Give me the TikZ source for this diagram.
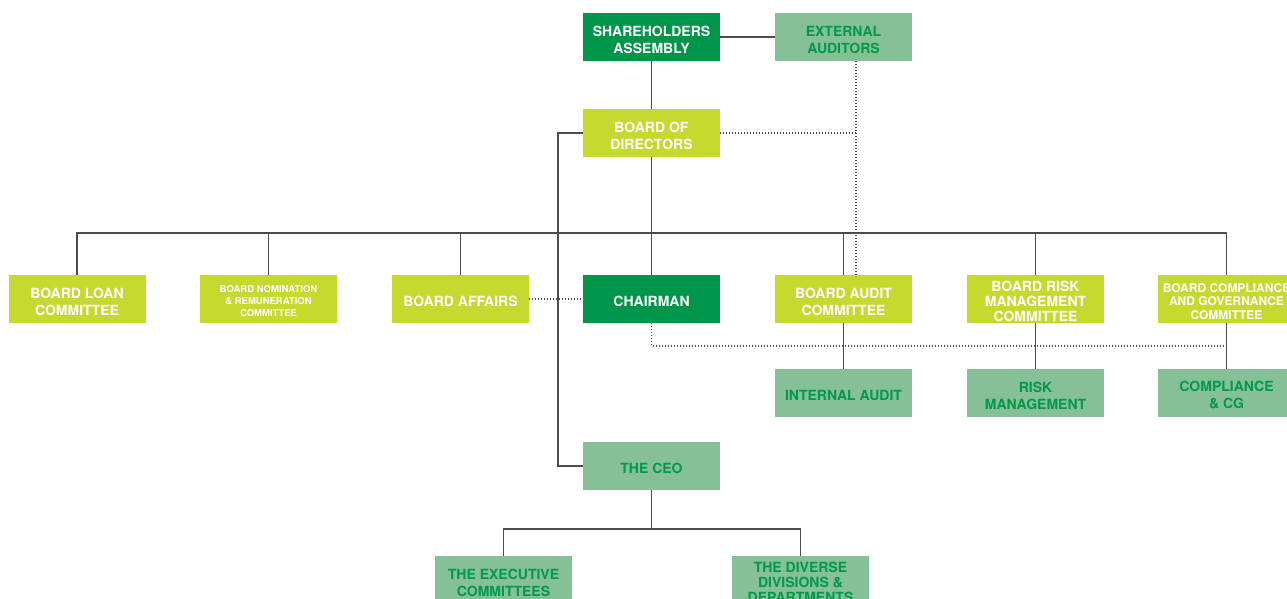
\documentclass[tikz,border=0pt]{standalone}
\usepackage{fontspec}
\setmainfont{TeX Gyre Heros}

\newlength{\du}
\setlength{\du}{1pt}

\definecolor{darkgreen}{rgb}{0.000000, 0.588235, 0.290196}
\definecolor{limegreen}{rgb}{0.776471, 0.850980, 0.180392}
\definecolor{palegreen}{rgb}{0.521569, 0.752941, 0.592157}
\definecolor{textgreen}{rgb}{0.000000, 0.603922, 0.282353}
\definecolor{linegray}{rgb}{0.300000, 0.300000, 0.300000}

% lowers a label a little inside its box
\newcommand{\lift}{\rule{0pt}{\dimexpr\fontcharht\font`B+5\du\relax}}

\tikzset{
  box/.style={minimum width=137\du, minimum height=48\du, inner sep=0pt, align=center,
    font=\bfseries\fontsize{14}{17}\selectfont},
  topbox/.style={box, fill=darkgreen, text=white},
  boardbox/.style={box, fill=limegreen, text=white},
  unitbox/.style={box, fill=palegreen, text=textgreen},
  link/.style={draw=linegray, line width=1.4\du},
  dotlink/.style={draw=linegray, line width=1.1\du, dash pattern=on 1\du off 2\du}
}

\begin{document}
\begin{tikzpicture}[x=1\du,y=-1\du]
\useasboundingbox (0,0) rectangle (1287,599);
\clip (0,0) rectangle (1287,599);

% top of the chart
\node[topbox] (sha) at (651.5,37) {\lift SHAREHOLDERS\\ASSEMBLY};
\node[unitbox] (ext) at (843.5,37) {\lift EXTERNAL\\AUDITORS};
\node[boardbox] (bod) at (651.5,133) {\lift BOARD OF\\DIRECTORS};

% committees
\node[boardbox] (loan) at (77,299) {\lift BOARD LOAN\\COMMITTEE};
\node[boardbox, font=\bfseries\fontsize{9.5}{12}\selectfont] (nom) at (268.5,299) {\lift BOARD NOMINATION\\\& REMUNERATION\\COMMITTEE};
\node[boardbox] (aff) at (460.5,299) {\lift BOARD AFFAIRS};
\node[topbox] (chair) at (651.5,299) {\lift CHAIRMAN};
\node[boardbox] (aud) at (843.5,299) {\lift BOARD AUDIT\\COMMITTEE};
\node[boardbox, font=\bfseries\fontsize{14}{15}\selectfont] (risk) at (1035.5,299) {\lift BOARD RISK\\MANAGEMENT\\COMMITTEE};
\node[boardbox, font=\bfseries\fontsize{12}{13.5}\selectfont] (comp) at (1226.5,299) {\lift BOARD COMPLIANCE\\AND GOVERNANCE\\COMMITTEE};

\node[unitbox] (iaud) at (843.5,393) {\lift INTERNAL AUDIT};
\node[unitbox] (rman) at (1035.5,393) {\lift RISK\\MANAGEMENT};
\node[unitbox] (ccg) at (1226.5,393) {\lift COMPLIANCE\\\& CG};

% management
\node[unitbox] (ceo) at (651.5,466) {\lift THE CEO};
\node[unitbox] (exe) at (503.5,580) {\lift THE EXECUTIVE\\COMMITTEES};
\node[unitbox, font=\bfseries\fontsize{14}{15}\selectfont] (div) at (800.5,580) {\lift THE DIVERSE\\DIVISIONS \&\\DEPARTMENTS};

\coordinate (bus) at (651.5,233);
\coordinate (ceobus) at (651.5,529);
\coordinate (extdot) at ([xshift=12.5]ext.south);
\coordinate (chdot) at (651.5,346);

\draw[link] (sha) -- (ext);
\draw[link] (sha) -- (bod);
\draw[link] (bod) -- (chair);
\draw[link] (loan.north) |- (bus) -| (comp.north);
\foreach \n in {nom,aff,aud,risk}
  \draw[link] (\n.north) -- (\n.north |- bus);
\draw[link] (aud) -- (iaud);
\draw[link] (risk) -- (rman);
\draw[link] (comp) -- (ccg);
\draw[link] (bod.west) -- ++(-25,0) |- (ceo.west);
\draw[link] (ceo) -- (ceobus);
\draw[link] (exe.north) |- (ceobus) -| (div.north);

% dotted reporting lines
\draw[dotlink] (extdot) -- (extdot |- aud.north);
\draw[dotlink] (bod.east) -- (bod.east -| extdot);
\draw[dotlink] (aff) -- (chair);
\draw[dotlink] (chair.south) -- (chdot) -- (chdot -| comp);
\end{tikzpicture}
\end{document}
